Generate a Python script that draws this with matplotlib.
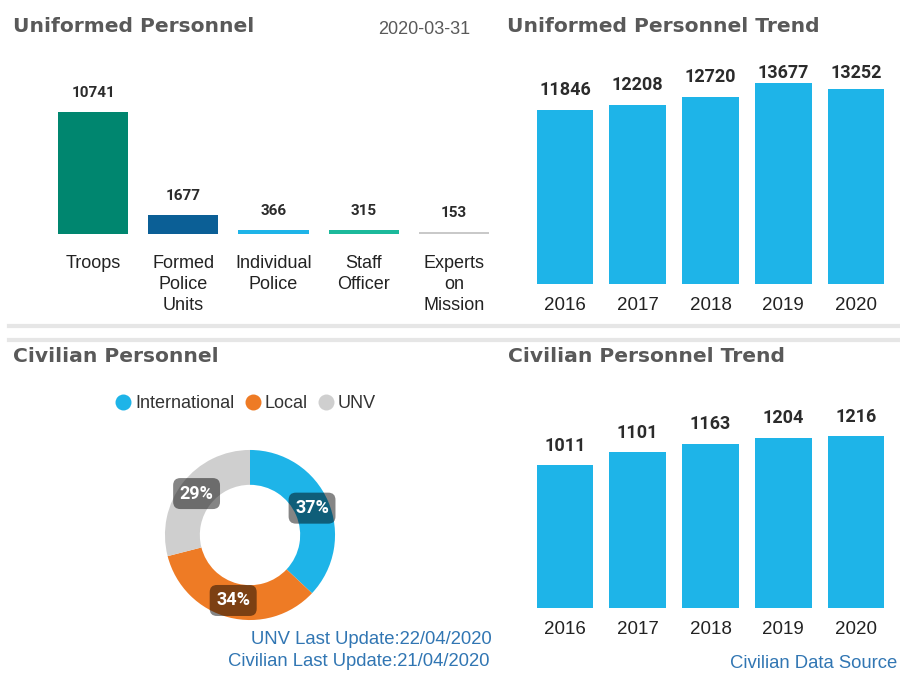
import matplotlib
matplotlib.use("Agg")
import matplotlib.pyplot as plt
from matplotlib.lines import Line2D
import numpy as np

# ---------------- data ----------------
uni_categories = ["Troops", "Formed\nPolice\nUnits", "Individual\nPolice", "Staff\nOfficer", "Experts\non\nMission"]
uni_values = [10741, 1677, 366, 315, 153]
uni_colors = ["#00866F", "#0B5F96", "#1EB4E8", "#1CB99B", "#C9C9C9"]

years = ["2016", "2017", "2018", "2019", "2020"]
uni_trend = [11846, 12208, 12720, 13677, 13252]
civ_trend = [1011, 1101, 1163, 1204, 1216]

civ_labels = ["International", "Local", "UNV"]
civ_share = [37, 34, 29]
civ_colors = ["#1EB4E8", "#EE7B25", "#CFCFCF"]

W, H = 900, 673
fig = plt.figure(figsize=(9, 6.73), dpi=100)
fig.patch.set_facecolor("white")

def axes_px(x0, y0, x1, y1):
    return fig.add_axes([x0 / W, 1 - y1 / H, (x1 - x0) / W, (y1 - y0) / H])

TITLE_C = "#595959"
LBL_FONT = "Liberation Sans"
VAL_FONT = "Roboto"

def clean(ax):
    for s in ax.spines.values():
        s.set_visible(False)
    ax.set_yticks([])
    ax.tick_params(axis="x", length=0)
    ax.set_facecolor("none")

# ---------------- titles ----------------
for (x, y, t) in [(13, 26, "Uniformed Personnel"), (507, 26, "Uniformed Personnel Trend"),
                  (13, 356, "Civilian Personnel"), (508, 356, "Civilian Personnel Trend")]:
    fig.text(x / W, 1 - y / H, t, fontsize=14.6, fontweight="bold", family="DejaVu Sans",
             color=TITLE_C, ha="left", va="center")
fig.text(470 / W, 1 - 30 / H, "2020-03-31", fontsize=13, family=LBL_FONT, color="#595959",
         ha="right", va="center")

# separators
for y in (326, 340):
    fig.add_artist(Line2D([9 / W, 1], [1 - y / H] * 2, color="#E6E6E6", lw=3,
                          transform=fig.transFigure))

# ---------------- Uniformed personnel bars ----------------
ax1 = axes_px(48, 70, 499, 234)
x = np.arange(len(uni_values))
ax1.bar(x, uni_values, width=0.78, color=uni_colors)
ax1.set_xlim(-0.5, len(uni_values) - 0.5)
ax1.set_ylim(0, 14439)
clean(ax1)
ax1.set_xticks(x)
ax1.set_xticklabels(uni_categories, fontsize=13, family=LBL_FONT, color="#222222",
                    linespacing=1.3)
ax1.tick_params(axis="x", pad=15)
for xi, v in zip(x, uni_values):
    ax1.annotate(str(v), (xi, v), xytext=(0, 13.7), textcoords="offset points",
                 ha="center", va="center", fontsize=11, fontweight="bold",
                 family=VAL_FONT, color="#2b2b2b")

# ---------------- trend charts ----------------
def trend(y0, y1, vals, ymax, off, cap):
    ax = axes_px(528.6, y0, 892.4, y1)
    xx = np.arange(len(vals))
    ax.bar(xx, vals, width=0.78, color="#1EB4E8")
    ax.set_xlim(-0.5, len(vals) - 0.5)
    ax.set_ylim(0, ymax)
    clean(ax)
    ax.set_xticks(xx)
    ax.set_xticklabels(years, fontsize=13.5, family=LBL_FONT, color="#222222")
    ax.tick_params(axis="x", pad=9.5)
    for xi, v in zip(xx, vals):
        ax.text(xi, min(v + off, cap), str(v), ha="center", va="center", fontsize=13,
                fontweight="bold", family=VAL_FONT, color="#2b2b2b")
    return ax

trend(60, 284, uni_trend, 15250, 1368, 14398)
trend(385, 608, civ_trend, 1577, 138, 1358)

# ---------------- donut ----------------
axd = axes_px(150, 435, 350, 635)
wedges, _ = axd.pie(civ_share, colors=civ_colors, startangle=90, counterclock=False,
                    radius=1.0, wedgeprops=dict(width=0.41, edgecolor="none"))
axd.set_xlim(-1.176, 1.176)
axd.set_ylim(-1.176, 1.176)
axd.set_aspect("equal")
axd.axis("off")
r_lab = 0.795
for w, s in zip(wedges, civ_share):
    ang = np.deg2rad((w.theta1 + w.theta2) / 2)
    axd.text(r_lab * np.cos(ang), r_lab * np.sin(ang), f"{s}%", ha="center", va="center",
             fontsize=13, fontweight="bold", family=VAL_FONT, color="white",
             bbox=dict(boxstyle="round,pad=0.36,rounding_size=0.4", fc=(0, 0, 0, 0.48),
                       ec="none"))

handles = [Line2D([], [], marker="o", linestyle="none", markersize=11.5, markerfacecolor=c,
                  markeredgecolor="none") for c in civ_colors]
fig.legend(handles, civ_labels, loc="center", bbox_to_anchor=(246 / W, 1 - 404 / H),
           bbox_transform=fig.transFigure, ncol=3, frameon=False, borderpad=0,
           handlelength=0.8, handletextpad=0.27, columnspacing=0.6,
           prop=dict(family=LBL_FONT, size=13), labelcolor="#333333")

# ---------------- footnotes ----------------
FOOT_C = "#3176B3"
fig.text(492 / W, 1 - 639 / H, "UNV Last Update:22/04/2020", fontsize=13.3, family=LBL_FONT,
         color=FOOT_C, ha="right", va="center")
fig.text(490 / W, 1 - 661 / H, "Civilian Last Update:21/04/2020", fontsize=13.3,
         family=LBL_FONT, color=FOOT_C, ha="right", va="center")
fig.text(897 / W, 1 - 664 / H, "Civilian Data Source", fontsize=13.3, family=LBL_FONT,
         color=FOOT_C, ha="right", va="center")

fig.savefig("out.png", dpi=100)
